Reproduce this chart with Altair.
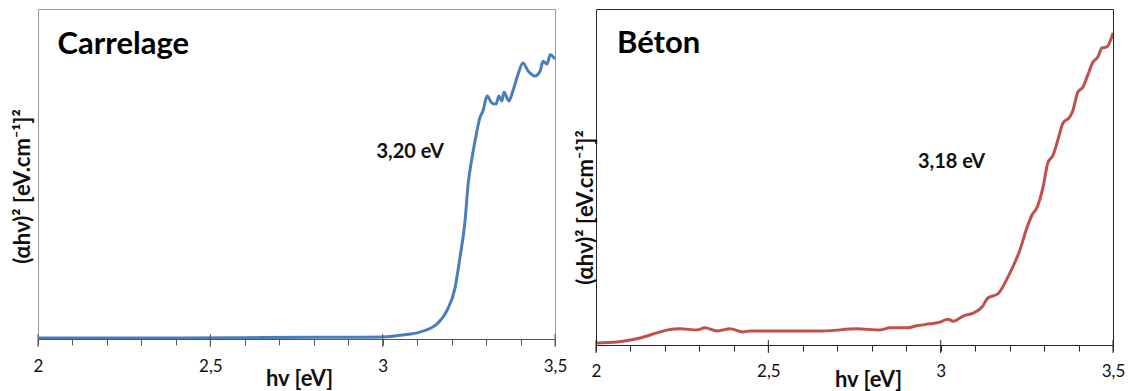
import altair as alt
import pandas as pd

FONT = "Lato"

# ---- data ----
carrelage_hv = [2.0, 2.2, 2.4, 2.6, 2.8, 2.9, 3.0, 3.058, 3.108, 3.157, 3.186, 3.210, 3.224,
                3.239, 3.248, 3.259, 3.268, 3.282, 3.291, 3.303, 3.317, 3.329, 3.337, 3.346,
                3.352, 3.366, 3.378, 3.393, 3.407, 3.422, 3.442, 3.457, 3.465, 3.477, 3.486, 3.5]
carrelage_val = [0.3, 0.3, 0.3, 0.4, 0.5, 0.5, 0.6, 1.2, 2.1, 4.5, 8.5, 15.5, 24.5,
                 35.8, 47.0, 54.8, 60.0, 67.0, 69.1, 73.6, 71.5, 71.2, 73.6, 72.1,
                 74.8, 72.1, 75.2, 80.3, 83.6, 81.2, 79.7, 81.2, 84.2, 83.3, 86.1, 84.8]

beton_hv = [2.003, 2.061, 2.128, 2.177, 2.209, 2.244, 2.293, 2.316, 2.351, 2.389, 2.426,
            2.447, 2.563, 2.659, 2.757, 2.824, 2.853, 2.902, 2.931, 2.969, 2.998, 3.021,
            3.036, 3.065, 3.094, 3.120, 3.137, 3.166, 3.195, 3.230, 3.250, 3.265, 3.279,
            3.297, 3.311, 3.326, 3.340, 3.355, 3.375, 3.384, 3.398, 3.413, 3.427, 3.442,
            3.456, 3.468, 3.482, 3.5]
beton_val = [0.6, 0.9, 2.1, 3.6, 4.5, 4.8, 4.5, 5.1, 4.2, 4.8, 3.9,
             4.2, 4.2, 4.2, 4.8, 4.5, 5.1, 5.1, 5.7, 6.3, 6.8, 7.7,
             7.1, 8.6, 9.5, 11.3, 14.0, 15.2, 20.2, 28.3, 34.8, 38.7, 40.8,
             47.0, 54.2, 56.5, 61.0, 66.1, 67.9, 69.9, 75.3, 76.8, 80.4, 84.2,
             85.7, 88.4, 88.7, 92.9]

minor_ticks = [2.0, 2.1, 2.2, 2.3, 2.4, 2.5, 2.6, 2.7, 2.8, 2.9, 3.0, 3.1, 3.2, 3.3, 3.4, 3.5]
major_ticks = [2.0, 2.5, 3.0, 3.5]

x_title = "hv [eV]"
y_title = "(αhν)² [eV.cm⁻¹]²"

panel_names = ["Carrelage", "Béton"]
gap_labels = ["3,20 eV", "3,18 eV"]
gap_label_x = [2.982, 2.934]
gap_label_y = [54.8, 52.7]

LABEL_EXPR = ("abs(datum.value*2 - round(datum.value*2)) < 0.001 ? "
              "replace(format(datum.value, '~g'), '.', ',') : ''")


def panel(hv, val, color, name, note, note_x, note_y, w, h, frame, axcol,
          name_x, name_y, xt_x, xt_y, yt_x, yt_y, lab_pad):
    df = pd.DataFrame({"hv": hv, "val": val})
    xscale = alt.Scale(domain=[2, 3.5], nice=False, zero=False)
    yscale = alt.Scale(domain=[0, 100], nice=False, zero=True)
    xaxis = alt.Axis(
        values=minor_ticks, tickSize=6, tickColor=axcol, domainColor=axcol,
        labelExpr=LABEL_EXPR, labelFlush=False, labelOverlap=False,
        labelFont=FONT, labelFontSize=17, labelColor="#111", labelPadding=lab_pad,
        grid=False, title=x_title, titleFont=FONT, titleFontSize=22,
        titleFontWeight="bold", titleColor="#111", titleX=xt_x, titleY=xt_y,
        titleAlign="center", titleBaseline="alphabetic")
    yaxis = alt.Axis(
        labels=False, ticks=False, domain=False, grid=False,
        title=y_title, titleFont=FONT, titleFontSize=22, titleFontWeight="bold",
        titleColor="#111", titleAngle=270, titleX=yt_x, titleY=yt_y,
        titleAlign="center", titleBaseline="middle")

    line = alt.Chart(df).mark_line(color=color, strokeWidth=3, clip=True,
                                   interpolate="monotone").encode(
        x=alt.X("hv:Q", scale=xscale, axis=xaxis),
        y=alt.Y("val:Q", scale=yscale, axis=yaxis),
    )

    majors = alt.Chart(pd.DataFrame({"hv": major_ticks})).mark_rule(
        color=axcol, strokeWidth=1).encode(
        x=alt.X("hv:Q", scale=xscale, axis=xaxis),
        y=alt.value(h - 5), y2=alt.value(h + 8))

    title_txt = alt.Chart(pd.DataFrame({"label": [name]})).mark_text(
        align="left", baseline="alphabetic", font=FONT, fontSize=31,
        fontWeight="bold", color="#000").encode(
        x=alt.value(name_x), y=alt.value(name_y), text="label:N")

    note_txt = alt.Chart(pd.DataFrame({"label": [note], "hv": [note_x], "val": [note_y]})).mark_text(
        align="left", baseline="alphabetic", font=FONT, fontSize=20,
        fontWeight="bold", color="#111").encode(
        x=alt.X("hv:Q", scale=xscale, axis=xaxis),
        y=alt.Y("val:Q", scale=yscale, axis=yaxis), text="label:N")

    return alt.layer(line, majors, title_txt, note_txt).properties(
        width=w, height=h, view=alt.ViewBackground(stroke=frame, strokeWidth=1))


left = panel(carrelage_hv, carrelage_val, "#4a7ebb", panel_names[0], gap_labels[0],
             gap_label_x[0], gap_label_y[0], 517, 330, "#9a9a9a", "#555555",
             19.5, 45, 261, 46, -16, 177, 13)
right = panel(beton_hv, beton_val, "#c0504d", panel_names[1], gap_labels[1],
              gap_label_x[1], gap_label_y[1], 517, 336, "#262626", "#262626",
              21, 44, 272, 41, -11, 198, 12)

chart = alt.hconcat(left, right, spacing=41, bounds="flush").properties(
    padding={"left": 10, "top": 8, "right": 5, "bottom": 0}
).configure(background="white")

chart.save("out.html", embed_options={"renderer": "svg", "actions": False})
